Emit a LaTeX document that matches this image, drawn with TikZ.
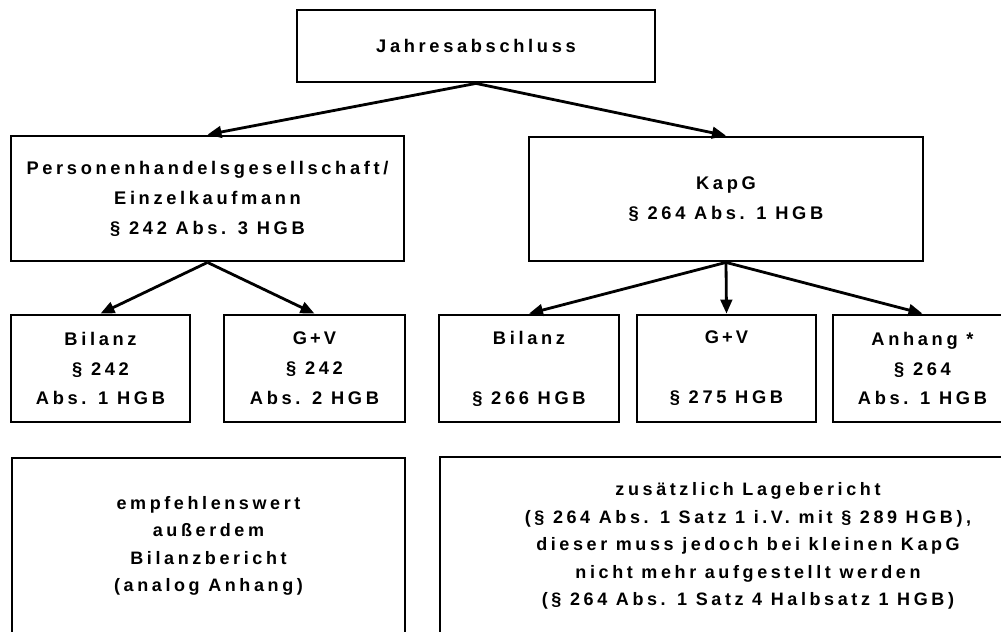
\documentclass[tikz,border=0pt]{standalone}
\usepackage{fontspec}
\setmainfont{Liberation Sans}
\newfontfamily\boxfont[LetterSpace=20]{Liberation Sans}
\usetikzlibrary{arrows.meta}
\newcommand\pix{0.025cm}
\tikzset{
  box/.style 2 args = {draw, line width=2pt, inner sep=0pt, align=center,
                       minimum width=#1*\pix, minimum height=#2*\pix},
  bigtext/.style = {font=\boxfont\bfseries\fontsize{13}{21.3}\selectfont},
  smalltext/.style = {font=\boxfont\bfseries\fontsize{12.8}{19.6}\selectfont},
  link/.style = {line width=2pt, -{Triangle[length=3.5mm,width=2.9mm]}}
}

\begin{document}
\begin{tikzpicture}[x=\pix, y=-\pix]
	\clip (0,0) rectangle (1001,632);

	% Top
	\node[box={358}{72}, bigtext] (jahr) at (476,46) {Jahresabschluss};

	% Legal form
	\node[box={393}{125}, bigtext] (phg) at (207.5,198.5)
	  {Personenhandelsgesellschaft/\\Einzelkaufmann\\§ 242 Abs. 3 HGB};
	\node[box={394}{124}, bigtext] (kapg) at (726,199)
	  {KapG\\§ 264 Abs. 1 HGB};

	% Parts (left)
	\node[box={179}{107}, bigtext] (bil1) at (100.5,368.5) {Bilanz\\§ 242\\Abs. 1 HGB};
	\node[box={181}{107}, bigtext] (guv1) at (314.5,368.5) {G\,+\,V\\§ 242\\Abs. 2 HGB};

	% Parts (right)
	\node[box={180}{107}, bigtext] (bil2) at (529,368.5) {Bilanz\\\mbox{}\\§ 266 HGB};
	\node[box={179}{107}, bigtext] (guv2) at (726.5,368.5) {G\,+\,V\\\mbox{}\\§ 275 HGB};
	\node[box={179}{107}, bigtext] (anh) at (922.5,368.5) {Anhang *\\§ 264\\Abs. 1 HGB};

	% Notes
	\node[box={393}{176}, smalltext] (note1) at (208.5,546)
	  {empfehlenswert\\außerdem\\Bilanzbericht\\(analog Anhang)};
	\node[box={616}{178}, smalltext] (note2) at (748,546)
	  {zusätzlich Lagebericht\\(§ 264 Abs. 1 Satz 1 i.V. mit § 289 HGB),\\dieser muss jedoch bei kleinen KapG\\nicht mehr aufgestellt werden\\(§ 264 Abs. 1 Satz 4 Halbsatz 1 HGB)};

	% Arrows
	\draw[link] (jahr.south) -- (phg.north);
	\draw[link] (jahr.south) -- (kapg.north);
	\draw[link] (phg.south) -- (bil1.north);
	\draw[link] (phg.south) -- (guv1.north);
	\draw[link] (kapg.south) -- (bil2.north);
	\draw[link] (kapg.south) -- (guv2.north);
	\draw[link] (kapg.south) -- (anh.north);
\end{tikzpicture}
\end{document}
